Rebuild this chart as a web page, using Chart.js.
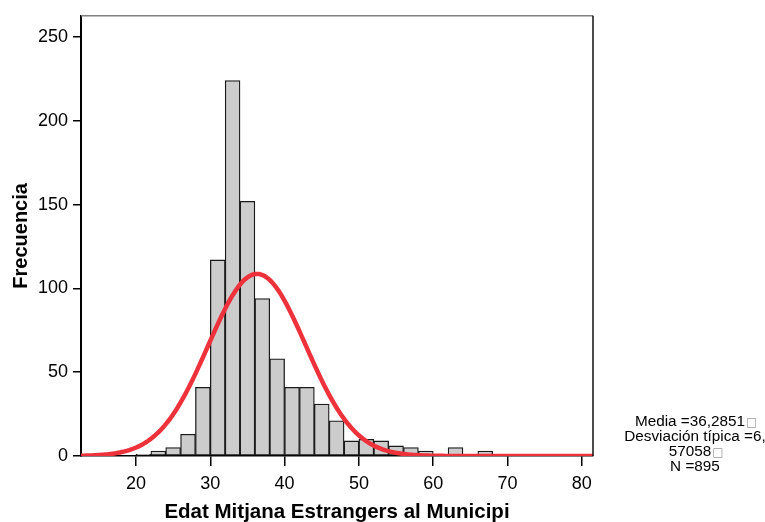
<!DOCTYPE html>
<html>
<head>
<meta charset="utf-8">
<title>Edat Mitjana Estrangers al Municipi</title>
<script src="https://cdn.jsdelivr.net/npm/chart.js@4.4.1/dist/chart.umd.min.js"></script>
<style>
  html, body { margin: 0; padding: 0; background: #fff; }
  #wrap { width: 765px; height: 522px; position: relative; }
</style>
</head>
<body>
<div id="wrap"><canvas id="histChart" width="765" height="522"></canvas></div>
<script>
// histogram bins (width 2, lower edge) and their counts
const binStarts = [20, 22, 24, 26, 28, 30, 32, 34, 36, 38, 40, 42, 44, 46, 48, 50, 52, 54, 56, 58, 60, 62, 64, 66];
const binCounts = [1, 3, 5, 13, 41, 117, 224, 152, 94, 58, 41, 41, 31, 21, 9, 10, 9, 6, 5, 3, 0, 5, 0, 3];
const binWidth = 2;

// summary statistics shown beside the plot
const media = 36.2851;
const desviacion = 6.57058;
const totalN = 895;

const xTicks = [20, 30, 40, 50, 60, 70, 80];
const yTicks = [0, 50, 100, 150, 200, 250];
const xMin = 12.6, xMax = 81.5, yMax = 262.7;

const FONT = '"Liberation Sans", Arial, Helvetica, sans-serif';

// normal curve scaled to the histogram (N * bin width * pdf)
const curvePoints = [];
for (let i = 0; i <= 276; i++) {
    const x = xMin + i * 0.25;
    const z = (x - media) / desviacion;
    const y = totalN * binWidth * Math.exp(-0.5 * z * z) / (desviacion * Math.sqrt(2 * Math.PI));
    curvePoints.push({ x: x, y: y });
}

const bars = binStarts.map((s, i) => ({ x: s + binWidth / 2, y: binCounts[i] }));

const fmt = v => String(v).replace('.', ',');
const mediaStr = fmt(media);
const desvStr = fmt(desviacion);
const statsLines = [
    { text: 'Media =' + mediaStr, box: true },
    { text: 'Desviación típica =' + desvStr.slice(0, 2), box: false },
    { text: desvStr.slice(2), box: true },
    { text: 'N =' + totalN, box: false }
];

// frame lines on the top and right of the plot, plus the stats block
const framePlugin = {
    id: 'frame',
    afterDraw(chart) {
        const { ctx, chartArea } = chart;
        ctx.save();
        ctx.lineWidth = 1.5;
        ctx.strokeStyle = '#7f7f7f';
        ctx.beginPath();
        ctx.moveTo(chartArea.left, chartArea.top);
        ctx.lineTo(chartArea.right, chartArea.top);
        ctx.stroke();
        ctx.strokeStyle = '#111';
        ctx.beginPath();
        ctx.moveTo(chartArea.right, chartArea.top);
        ctx.lineTo(chartArea.right, chartArea.bottom);
        ctx.stroke();

        ctx.font = '15.3px ' + FONT;
        ctx.textBaseline = 'middle';
        ctx.textAlign = 'left';
        const cx = 695;
        let y = 422;
        statsLines.forEach(line => {
            const w = ctx.measureText(line.text).width;
            const boxW = line.box ? 10 : 0;
            const x0 = cx - (w + boxW) / 2;
            ctx.fillStyle = '#000';
            ctx.fillText(line.text, x0, y);
            if (line.box) {
                ctx.save();
                ctx.font = '12px "DejaVu Sans", sans-serif';
                ctx.fillStyle = '#9a9a9a';
                ctx.fillText('\u25A1', x0 + w + 1, y + 1);
                ctx.restore();
            }
            y += 14.8;
        });
        ctx.restore();
    }
};

const ctx = document.getElementById('histChart').getContext('2d');
const histChart = new Chart(ctx, {
    type: 'bar',
    data: {
        datasets: [
            {
                type: 'line',
                data: curvePoints,
                borderColor: '#ee323c',
                borderWidth: 4.5,
                pointRadius: 0,
                tension: 0,
                fill: false,
                order: 0
            },
            {
                type: 'bar',
                data: bars,
                backgroundColor: '#cccccc',
                borderColor: '#1a1a1a',
                borderWidth: 1.3,
                borderSkipped: false,
                barPercentage: 1,
                categoryPercentage: 1,
                order: 1
            }
        ]
    },
    options: {
        responsive: false,
        animation: false,
        devicePixelRatio: 1,
        layout: { padding: { left: 0, top: 14, right: 172, bottom: 0 } },
        plugins: {
            legend: { display: false },
            tooltip: { enabled: false }
        },
        scales: {
            x: {
                type: 'linear',
                min: xMin,
                max: xMax,
                offset: false,
                afterBuildTicks: s => { s.ticks = xTicks.map(v => ({ value: v })); },
                afterFit: s => { s.height = 66; },
                grid: { drawOnChartArea: false, drawTicks: true, tickLength: 10, color: '#000', lineWidth: 1.5, offset: false },
                border: { display: true, color: '#000', width: 1.5 },
                ticks: { color: '#000', font: { family: FONT, size: 18 }, padding: 7, maxRotation: 0, autoSkip: false },
                title: {
                    display: true,
                    text: 'Edat Mitjana Estrangers al Municipi',
                    color: '#000',
                    font: { family: FONT, size: 20.5, weight: 'bold' },
                    padding: { top: 0, bottom: -3 }
                }
            },
            y: {
                min: 0,
                max: yMax,
                afterBuildTicks: s => { s.ticks = yTicks.map(v => ({ value: v })); },
                afterFit: s => { s.width = 81; },
                grid: { drawOnChartArea: false, drawTicks: true, tickLength: 8, color: '#000', lineWidth: 1.5 },
                border: { display: true, color: '#000', width: 2 },
                ticks: { color: '#000', font: { family: FONT, size: 18 }, padding: 5 },
                title: {
                    display: true,
                    text: 'Frecuencia',
                    color: '#000',
                    font: { family: FONT, size: 20, weight: 'bold' },
                    padding: { top: 9, bottom: 0 }
                }
            }
        }
    },
    plugins: [framePlugin]
});
</script>
</body>
</html>
